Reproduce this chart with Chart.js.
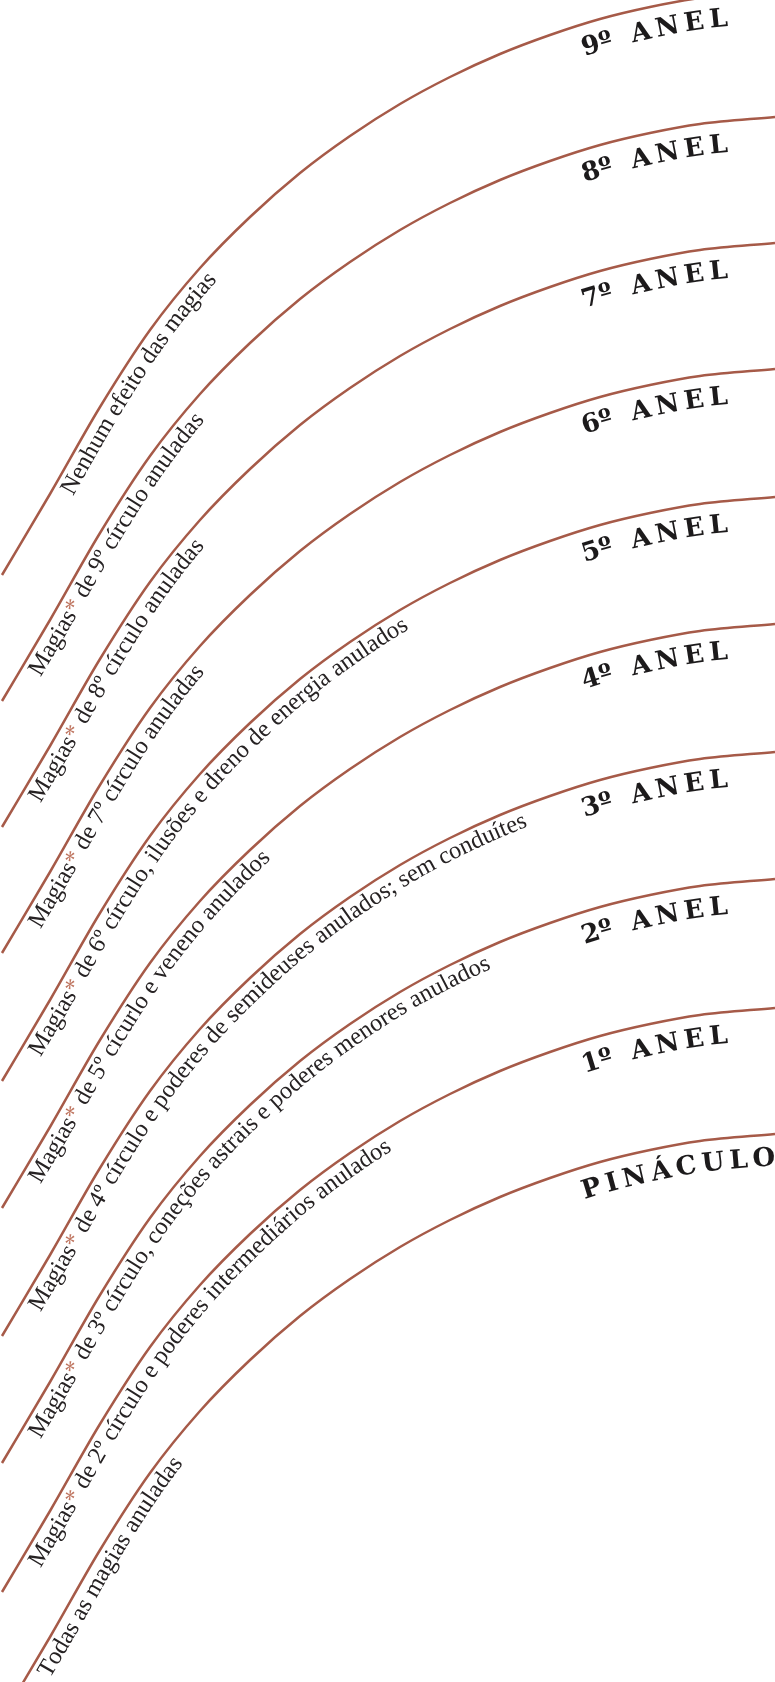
<!DOCTYPE html>
<html lang="pt">
<head>
<meta charset="utf-8">
<title>Anéis</title>
<script src="https://cdn.jsdelivr.net/npm/chart.js@4.4.1/dist/chart.umd.min.js"></script>
<style>
  html, body { margin: 0; padding: 0; background: #fff; overflow: hidden; }
  canvas { display: block; }
</style>
</head>
<body>
<canvas id="grafico" width="775" height="1682"></canvas>
<script>
// pontos (x em comum, um y por anel, de cima para baixo)
const arcoX = [2, 50, 100, 150, 200, 250, 300, 350, 400, 450, 500, 550, 600, 650, 700, 775];
const anel9 = [575, 494, 407, 330, 268, 217, 173, 136, 104, 77, 54, 35, 19, 7, -2, -9];
const anel8 = [701, 620, 533, 456, 394, 343, 299, 262, 230, 203, 180, 161, 145, 133, 124, 117];
const anel7 = [827, 746, 659, 582, 520, 469, 425, 388, 356, 329, 306, 287, 271, 259, 250, 243];
const anel6 = [953, 872, 785, 708, 646, 595, 551, 514, 482, 455, 432, 413, 397, 385, 376, 369];
const anel5 = [1081, 1000, 913, 836, 774, 723, 679, 642, 610, 583, 560, 541, 525, 513, 504, 497];
const anel4 = [1208, 1127, 1040, 963, 901, 850, 806, 769, 737, 710, 687, 668, 652, 640, 631, 624];
const anel3 = [1336, 1255, 1168, 1091, 1029, 978, 934, 897, 865, 838, 815, 796, 780, 768, 759, 752];
const anel2 = [1463, 1382, 1295, 1218, 1156, 1105, 1061, 1024, 992, 965, 942, 923, 907, 895, 886, 879];
const anel1 = [1592, 1511, 1424, 1347, 1285, 1234, 1190, 1153, 1121, 1094, 1071, 1052, 1036, 1024, 1015, 1008];
const pinaculo = [1718, 1637, 1550, 1473, 1411, 1360, 1316, 1279, 1247, 1220, 1197, 1178, 1162, 1150, 1141, 1134];

const linhas = [anel9, anel8, anel7, anel6, anel5, anel4, anel3, anel2, anel1, pinaculo];

const nomesAneis = ["9º ANEL", "8º ANEL", "7º ANEL", "6º ANEL", "5º ANEL",
  "4º ANEL", "3º ANEL", "2º ANEL", "1º ANEL", "PINÁCULO"];

const efeitos = [
  "Nenhum efeito das magias",
  "Magias* de 9º círculo anuladas",
  "Magias* de 8º círculo anuladas",
  "Magias* de 7º círculo anuladas",
  "Magias* de 6º círculo, ilusões e dreno de energia anulados",
  "Magias* de 5º cícurlo e veneno anulados",
  "Magias* de 4º círculo e poderes de semideuses anulados; sem conduítes",
  "Magias* de 3º círculo, coneções astrais e poderes menores anulados",
  "Magias* de 2º círculo e poderes intermediários anulados",
  "Todas as magias anuladas"
];

// estilo
const corLinha = "#a65a48";
const corAsterisco = "#bf7560";
const corTexto = "#262223";
const fonteTexto = '24.5px "Liberation Serif"';
const fonteAnel = 'bold 26px "DejaVu Serif"';
const inicioEfeito = [104, 40, 40, 40, 40, 40, 40, 40, 40, 58];

// amostra a curva que o Chart.js desenhou (beziers dos pontos)
function amostrarCurva(meta) {
  const pts = meta.data;
  const out = [];
  for (let i = 0; i < pts.length - 1; i++) {
    const a = pts[i], b = pts[i + 1];
    const c1x = a.cp2x ?? a.x, c1y = a.cp2y ?? a.y;
    const c2x = b.cp1x ?? b.x, c2y = b.cp1y ?? b.y;
    for (let k = 0; k < 40; k++) {
      const t = k / 40, u = 1 - t;
      out.push({
        x: u*u*u*a.x + 3*u*u*t*c1x + 3*u*t*t*c2x + t*t*t*b.x,
        y: u*u*u*a.y + 3*u*u*t*c1y + 3*u*t*t*c2y + t*t*t*b.y
      });
    }
  }
  const ult = pts[pts.length - 1];
  out.push({x: ult.x, y: ult.y});
  return out;
}

// desloca a curva para baixo/direita (lado de dentro)
function deslocar(pts, d) {
  const out = pts.map((p, i) => {
    const a = pts[Math.max(i - 1, 0)], b = pts[Math.min(i + 1, pts.length - 1)];
    const ang = Math.atan2(b.y - a.y, b.x - a.x);
    return {x: p.x - Math.sin(ang) * d, y: p.y + Math.cos(ang) * d};
  });
  let s = 0;
  out[0].s = 0;
  for (let i = 1; i < out.length; i++) {
    s += Math.hypot(out[i].x - out[i-1].x, out[i].y - out[i-1].y);
    out[i].s = s;
  }
  return out;
}

function pontoEm(cam, s) {
  let i = 1;
  while (i < cam.length - 1 && cam[i].s < s) i++;
  const a = cam[i - 1], b = cam[i];
  const t = (s - a.s) / ((b.s - a.s) || 1);
  return {
    x: a.x + (b.x - a.x) * t,
    y: a.y + (b.y - a.y) * t,
    ang: Math.atan2(b.y - a.y, b.x - a.x)
  };
}

function escreverNoCaminho(ctx, cam, pedacos, s) {
  for (const p of pedacos) {
    ctx.font = p.fonte;
    ctx.fillStyle = p.cor;
    const chars = Array.from(p.texto);
    chars.forEach((ch, k) => {
      const w = ctx.measureText(ch).width;
      const m = pontoEm(cam, s + w / 2);
      ctx.save();
      ctx.translate(m.x, m.y);
      ctx.rotate(m.ang);
      ctx.fillText(ch, -w / 2, 0);
      ctx.restore();
      // sem espaço extra entre o número e o º
      const junto = chars[k + 1] === "º";
      s += w + (junto ? 0 : (p.espaco || 0));
    });
  }
}

const textoNosArcos = {
  id: "textoNosArcos",
  afterDatasetsDraw(chart) {
    const ctx = chart.ctx;
    ctx.save();
    ctx.textBaseline = "alphabetic";
    linhas.forEach((_, i) => {
      const curva = amostrarCurva(chart.getDatasetMeta(i));

      // texto do efeito, ao longo do arco
      const cam = deslocar(curva, 21);
      const partes = efeitos[i].split("*");
      const pedacos = [{texto: partes[0], cor: corTexto, fonte: fonteTexto}];
      if (partes.length > 1) {
        pedacos.push({texto: "*", cor: corAsterisco, fonte: fonteTexto});
        pedacos.push({texto: partes[1], cor: corTexto, fonte: fonteTexto});
      }
      escreverNoCaminho(ctx, cam, pedacos, inicioEfeito[i]);

      // nome do anel, à direita
      const camAnel = deslocar(curva, 31);
      let s0 = 0;
      for (const p of camAnel) { if (p.x >= 584) { s0 = p.s; break; } }
      escreverNoCaminho(ctx, camAnel,
        [{texto: nomesAneis[i], cor: "#1c1a1b", fonte: fonteAnel, espaco: 5}], s0);
    });
    ctx.restore();
  }
};

const datasets = linhas.map((ys, i) => ({
  label: nomesAneis[i],
  data: ys.map((y, j) => ({x: arcoX[j], y: y})),
  borderColor: corLinha,
  borderWidth: 2.5,
  pointRadius: 0,
  fill: false,
  cubicInterpolationMode: "monotone"
}));

new Chart(document.getElementById("grafico"), {
  type: "line",
  data: { datasets: datasets },
  options: {
    responsive: false,
    animation: false,
    devicePixelRatio: 1,
    events: [],
    layout: { padding: 0 },
    elements: { line: { capBezierPoints: false } },
    plugins: { legend: { display: false }, tooltip: { enabled: false } },
    scales: {
      x: { type: "linear", min: 0, max: 775, display: false },
      y: { type: "linear", min: 0, max: 1682, reverse: true, display: false }
    }
  },
  plugins: [textoNosArcos]
});
</script>
</body>
</html>
